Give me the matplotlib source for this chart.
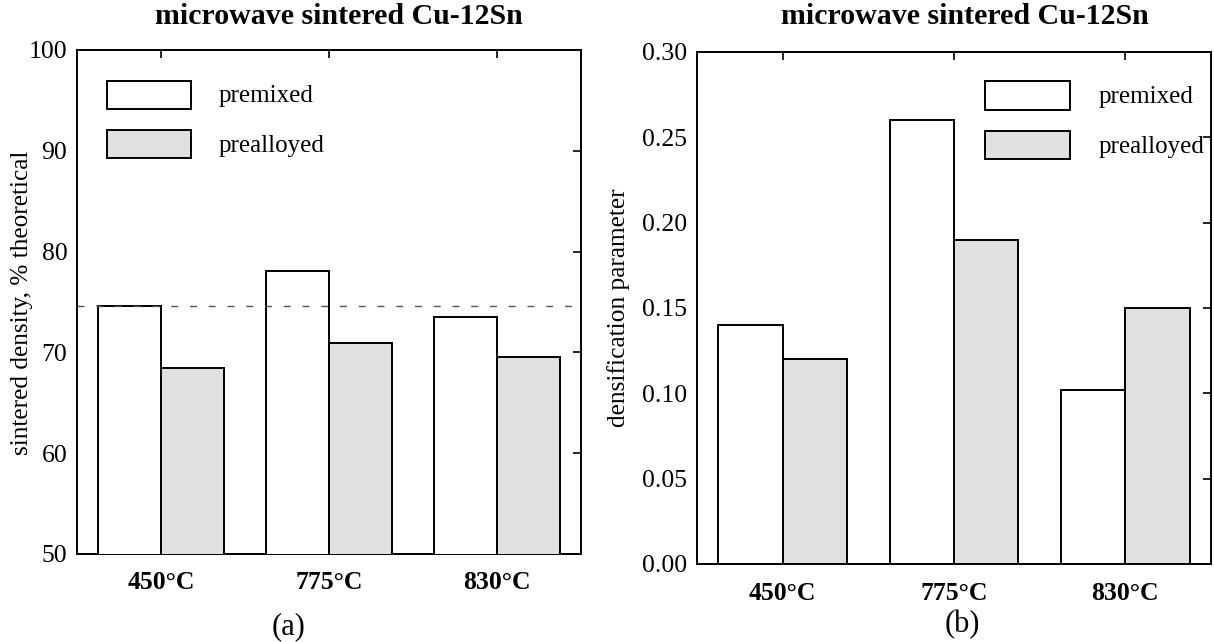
import matplotlib
matplotlib.use("Agg")
import matplotlib.pyplot as plt
from matplotlib.patches import Rectangle
import numpy as np

plt.rcParams['font.family'] = ['Liberation Serif', 'DejaVu Serif']

categories = ["450°C", "775°C", "830°C"]
series_names = ["premixed", "prealloyed"]
density_premixed = [74.6, 78.1, 73.5]
density_prealloyed = [68.5, 70.9, 69.5]
density_reference = 74.6
densif_premixed = [0.14, 0.26, 0.102]
densif_prealloyed = [0.12, 0.19, 0.15]
density_ticks = [50, 60, 70, 80, 90, 100]
densif_ticks = [0.00, 0.05, 0.10, 0.15, 0.20, 0.25, 0.30]

W, H = 1214, 642
fig = plt.figure(figsize=(W / 100, H / 100), dpi=100)

def px_axes(x0, y0, x1, y1):
    return fig.add_axes([x0 / W, 1 - y1 / H, (x1 - x0) / W, (y1 - y0) / H])

ax1 = px_axes(77, 50, 581, 554)
ax2 = px_axes(697, 52, 1211, 564)

colors = ["white", "#e0e0e0"]
bw = 0.375
lw = 1.4
x = np.arange(len(categories))

def style(ax, ticks, fmt, ylim, pad_x):
    ax.set_xlim(-0.5, 2.5)
    ax.set_ylim(*ylim)
    ax.set_yticks(ticks)
    ax.set_yticklabels([fmt.format(t) for t in ticks], family='Liberation Serif')
    ax.set_xticks(x)
    ax.set_xticklabels(categories, fontweight='bold', family='Liberation Serif')
    ax.tick_params(axis='x', direction='in', bottom=False, top=True,
                   labelbottom=True, length=6, width=1.2, labelsize=18.5, pad=pad_x)
    ax.tick_params(axis='y', direction='in', left=False, right=True,
                   labelleft=True, length=6, width=1.2, labelsize=18.5, pad=7)
    for s in ax.spines.values():
        s.set_linewidth(1.4)

def add_legend_px(bx0, bx1, rows, tx, tys):
    for (y0, y1), c, name, ty in zip(rows, colors, series_names, tys):
        fig.add_artist(Rectangle((bx0 / W, 1 - y1 / H), (bx1 - bx0) / W, (y1 - y0) / H,
                                 transform=fig.transFigure, facecolor=c,
                                 edgecolor='black', lw=lw))
        fig.text(tx / W, 1 - ty / H, name, fontsize=18, ha='left', va='center')

# Panel (a)
ax1.bar(x - bw / 2, density_premixed, bw, color=colors[0], edgecolor='black', lw=lw, zorder=3)
ax1.bar(x + bw / 2, density_prealloyed, bw, color=colors[1], edgecolor='black', lw=lw, zorder=3)
ax1.axhline(density_reference, color='#555555', lw=1.0, dashes=(5, 8.5), zorder=4)
style(ax1, density_ticks, "{:.0f}", (50, 100), 12)

# Panel (b)
ax2.bar(x - bw / 2, densif_premixed, bw, color=colors[0], edgecolor='black', lw=lw, zorder=3)
ax2.bar(x + bw / 2, densif_prealloyed, bw, color=colors[1], edgecolor='black', lw=lw, zorder=3)
style(ax2, densif_ticks, "{:.2f}", (0, 0.30), 13)

add_legend_px(107, 191, [(81, 109), (130, 158)], 219, [96, 146])
add_legend_px(985, 1070, [(81, 110), (131, 159)], 1099, [97, 147])

fig.text(339 / W, 1 - 17 / H, "microwave sintered Cu-12Sn", fontsize=21.5,
         fontweight='bold', ha='center', va='center')
fig.text(965 / W, 1 - 17 / H, "microwave sintered Cu-12Sn", fontsize=21.5,
         fontweight='bold', ha='center', va='center')
fig.text(22 / W, 1 - 303 / H, "sintered density, % theoretical", fontsize=18.2,
         rotation=90, ha='center', va='center')
fig.text(619 / W, 1 - 308 / H, "densification parameter", fontsize=18.3,
         rotation=90, ha='center', va='center')
fig.text(289 / W, 1 - 627 / H, "(a)", fontsize=22, ha='center', va='center')
fig.text(962 / W, 1 - 625 / H, "(b)", fontsize=22, ha='center', va='center')

fig.savefig("out.png", dpi=100)
